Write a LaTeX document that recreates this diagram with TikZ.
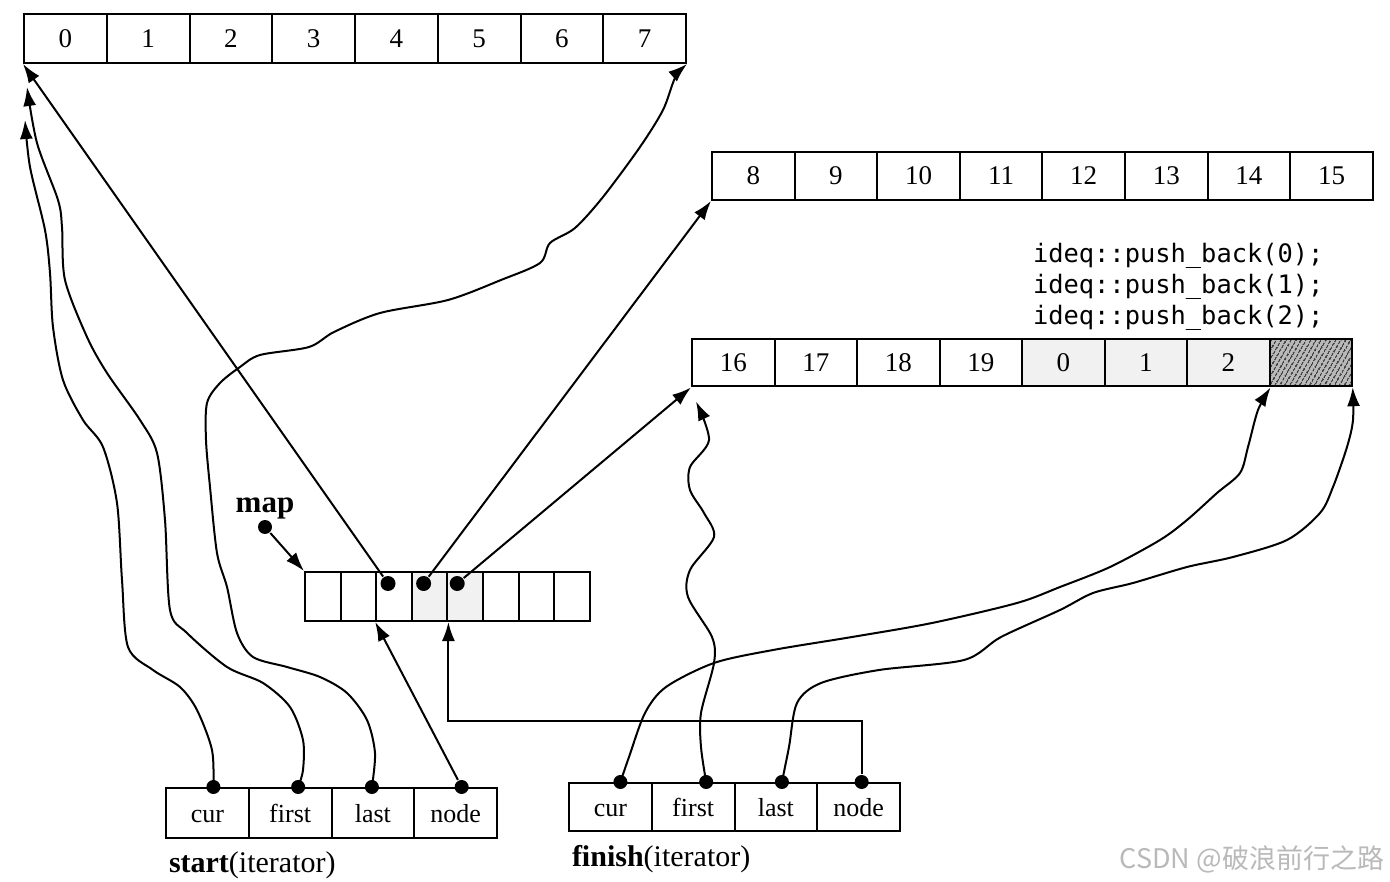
\documentclass[tikz,border=0pt]{standalone}
\usepackage{fontspec}
\setmainfont{Liberation Serif}
\newfontfamily\codefont{DejaVu Sans Mono}
\newfontfamily\markfont{Noto Sans CJK SC}
\usetikzlibrary{arrows.meta}
\usetikzlibrary{patterns.meta}

\begin{document}
\begin{tikzpicture}[x=1pt, y=-1pt, line width=2pt, >={Latex[length=19pt,width=13pt]},
  cell/.style={draw, inner sep=0pt, minimum height=48pt, font=\fontsize{27}{30}\selectfont},
  mapcell/.style={draw, inner sep=0pt, minimum width=35.6pt, minimum height=49pt},
  itcell/.style={draw, inner sep=0pt, minimum width=82.75pt, text height=20pt, text depth=1pt,
    font=\fontsize{26}{29}\selectfont},
  dot/.style={circle, fill, draw=none, inner sep=0pt, minimum size=14pt},
  stippled/.style={fill=gray!11},
  hatched/.style={preaction={fill=gray!55}, pattern={Lines[angle=60,distance=4pt,line width=1.4pt]}},
  bufC 4/.style={stippled}, bufC 5/.style={stippled}, bufC 6/.style={stippled},
  bufC 7/.style={hatched},
  map 3/.style={stippled}, map 4/.style={stippled},
  label/.style={inner sep=0pt, anchor=base west, font=\fontsize{30}{33}\selectfont},
  code/.style={inner sep=0pt, anchor=base west, font=\codefont\fontsize{25.4}{31}\selectfont}]

\useasboundingbox (0,0) rectangle (1390,882);

\foreach \l [count=\i from 0] in {0,...,7} % ensimmäinen puskuri
  \node [cell, minimum width=82.75pt, minimum height=49pt] (bufA-\i) at (65.4+82.75*\i,38.5) {\l};

\foreach \l [count=\i from 0] in {8,...,15} % toinen puskuri
  \node [cell, minimum width=82.6pt] (bufB-\i) at (753.3+82.6*\i,176) {\l};

\foreach \l [count=\i from 0] in {16,17,18,19,0,1,2,{}} % kolmas puskuri
  \node [cell, minimum width=82.5pt, minimum height=47pt, bufC \i/.try] (bufC-\i) at (733.25+82.5*\i,363) {\l};

\foreach \v [count=\i from 0] in {0,1,2}
  \node [code] (push-\v) at (1032,263+31*\i) {ideq::push\_back(\v);};

\foreach \i in {0,...,7} % map
  \node [mapcell, map \i/.try] (map-\i) at (322.8+35.6*\i,596.5) {};

\node [inner sep=0pt, font=\bfseries\fontsize{31}{34}\selectfont] (map-label) at (265,508) {map};
\node [dot] (map-ptr) at (265,527) {};

\foreach \n/\dx in {2/-6,3/-6,4/-8}
  \node [dot, minimum size=15pt] (map-dot-\n) at ([shift={(\dx,-13)}]map-\n.center) {};

\foreach \l [count=\i from 0] in {cur,first,last,node} % start
  \node [itcell, minimum height=50pt] (st-\i) at (207.4+82.75*\i,813) {\l};

\foreach \l [count=\i from 0] in {cur,first,last,node} % finish
  \node [itcell, minimum height=48pt] (fn-\i) at (610.4+82.75*\i,807) {\l};

\foreach \n/\dx in {0/6,1/8,2/-1,3/6}
  \node [dot] (st-dot-\n) at ([xshift=\dx pt]st-\n.north) {};

\foreach \n/\dx in {0/10,1/13,2/6,3/3}
  \node [dot] (fn-dot-\n) at ([xshift=\dx pt]fn-\n.north) {};

\node [label] (start-label) at (168,872) {\textbf{start}(iterator)};
\node [label] (finish-label) at (571,866) {\textbf{finish}(iterator)};
\node [inner sep=0pt, anchor=base east, text=gray!55, font=\markfont\fontsize{27}{30}\selectfont]
  (mark) at (1385,868) {CSDN @破浪前行之路};

% map -> puskurit
\draw [->] (map-ptr) -- (map-0.north west);
\draw [->] (map-dot-2) -- (bufA-0.south west);
\draw [->] (map-dot-3) -- (bufB-0.south west);
\draw [->] (map-dot-4) -- (bufC-0.south west);

% start
\draw [->] plot [smooth, tension=0.5] coordinates {(st-dot-0) (212,750) (197,710) (180,687) (153,670)
  (128,647) (122,580) (117,503) (103,447) (83,420) (63,380) (53,327) (50,273) (45,230) (30,167)
  ([shift={(2,56)}]bufA-0.south west)};
\draw [->] plot [smooth, tension=0.5] coordinates {(st-dot-1) (303,770) (303,740) (290,707) (263,683)
  (227,667) (187,633) (170,610) (165,520) (157,453) (140,420) (107,373) (87,337) (65,280) (62,227)
  (58,200) (37,143) ([shift={(4,23)}]bufA-0.south west)};
\draw [->] plot [smooth, tension=0.5] coordinates {(st-dot-2) (375,753) (367,720) (347,693) (320,677)
  (287,667) (253,657) (237,633) (227,587) (217,553) (210,487) (206,440) (207,403) (220,383) (240,367)
  (260,355) (309,347) (334,332) (380,313) (448,300) (501,280) (540,263) (550,243) (575,228)
  (603,197) (640,147) (663,110) (675,78) (bufA-7.south east)};
\draw [->] (st-dot-3) -- (map-2.south west);

% finish
\draw [->] plot [smooth, tension=0.5] coordinates {(fn-dot-0) (629,757) (645,713) (666,687) (714,663)
  (773,650) (852,637) (932,623) (1017,603) (1060,587) (1110,567) (1160,540) (1187,520) (1217,493)
  (1240,473) (1248,447) (1258,410) (bufC-6.south east)};
\draw [->] plot [smooth, tension=0.5] coordinates {(fn-dot-1) (701,747) (701,713) (714,663) (712,637)
  (688,597) (690,570) (714,537) (704,513) (690,490) (690,467) (709,440)
  ([shift={(5,14)}]bufC-0.south west)};
\draw [->] plot [smooth, tension=0.5] coordinates {(fn-dot-2) (789,747) (797,703) (821,683) (879,670)
  (964,660) (1001,637) (1060,610) (1093,593) (1133,583) (1187,567) (1233,557) (1287,540) (1320,513)
  (1333,487) (1347,447) (1353,420) (bufC-7.south east)};
\draw [->] (fn-dot-3) -- ++(0,-61) -| (map-3.south east);

\end{tikzpicture}
\end{document}
